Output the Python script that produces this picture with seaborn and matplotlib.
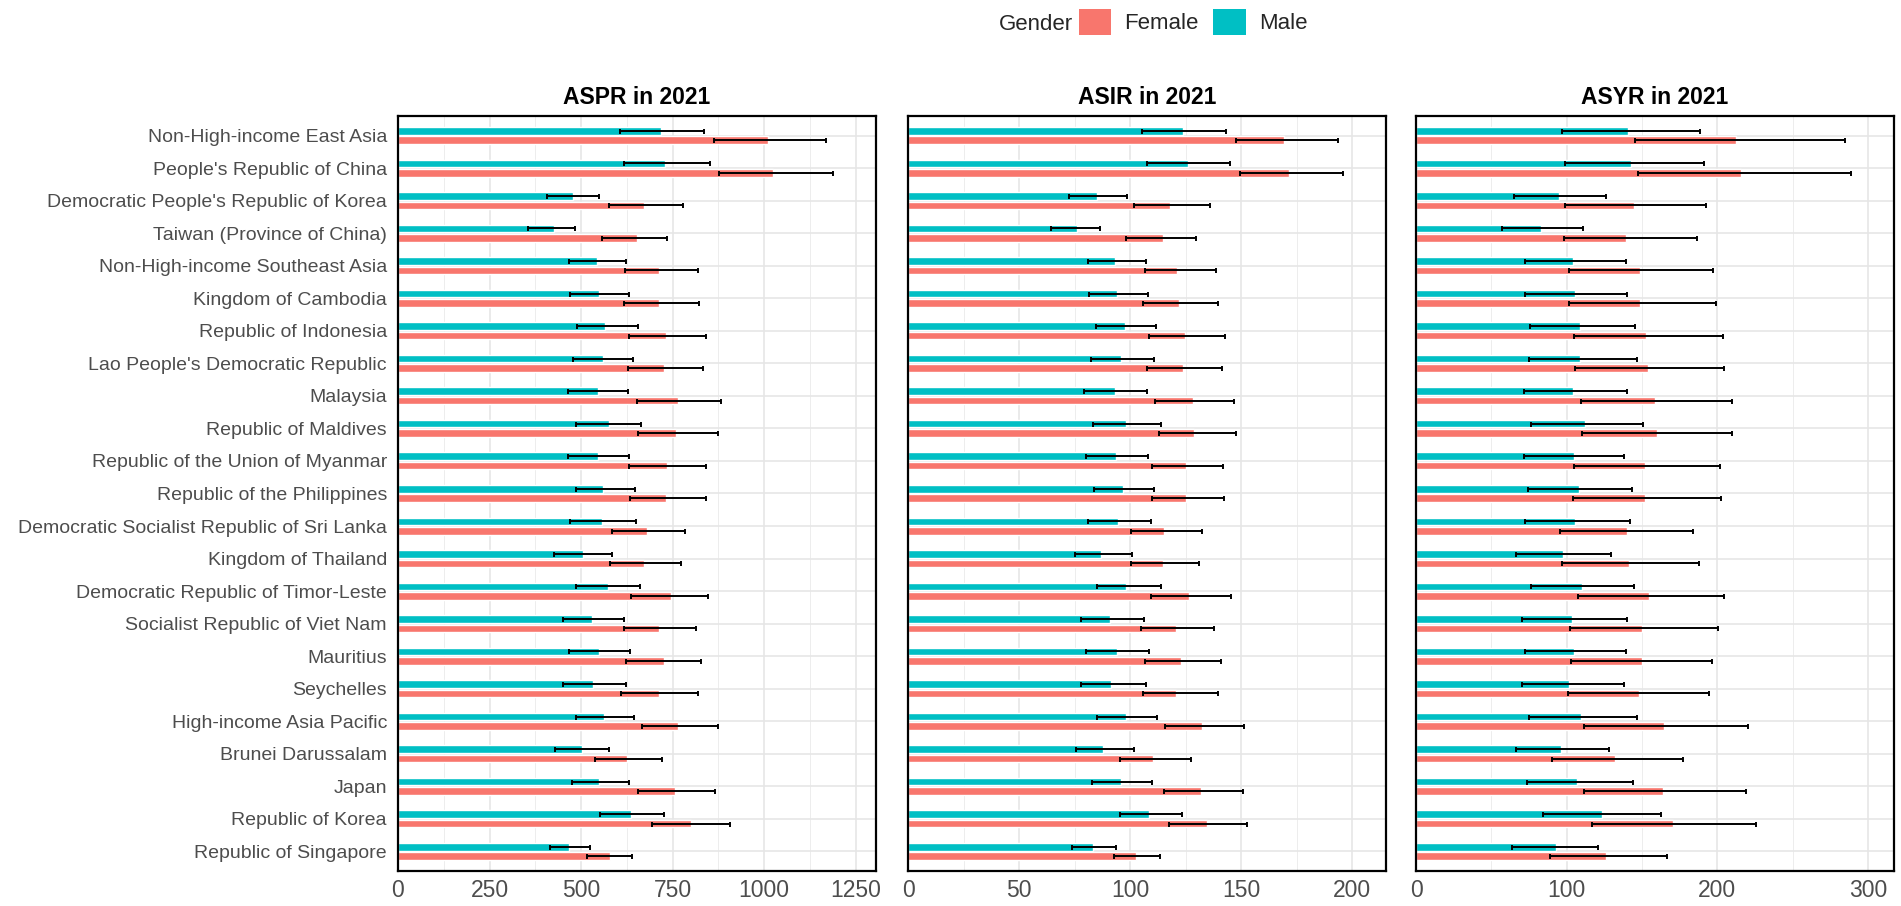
import pandas as pd
import matplotlib.pyplot as plt
import seaborn as sns
from matplotlib.patches import Patch
from matplotlib.ticker import MultipleLocator

sns.set_style("white")
plt.rcParams['font.family'] = ['Liberation Sans', 'DejaVu Sans']

countries = [
    "Non-High-income East Asia", "People's Republic of China",
    "Democratic People's Republic of Korea", "Taiwan (Province of China)",
    "Non-High-income Southeast Asia", "Kingdom of Cambodia",
    "Republic of Indonesia", "Lao People's Democratic Republic", "Malaysia",
    "Republic of Maldives", "Republic of the Union of Myanmar",
    "Republic of the Philippines", "Democratic Socialist Republic of Sri Lanka",
    "Kingdom of Thailand", "Democratic Republic of Timor-Leste",
    "Socialist Republic of Viet Nam", "Mauritius", "Seychelles",
    "High-income Asia Pacific", "Brunei Darussalam", "Japan",
    "Republic of Korea", "Republic of Singapore",
]

# ASPR (prevalence)
aspr_male = [718, 729, 479, 426, 544, 549, 565, 560, 546, 577, 546, 560, 558, 505, 574, 530, 549, 533, 564, 502, 549, 636, 467]
aspr_male_lo = [606, 617, 406, 355, 467, 470, 490, 479, 464, 486, 464, 485, 470, 426, 486, 451, 467, 451, 486, 428, 476, 552, 416]
aspr_male_hi = [836, 851, 550, 483, 624, 632, 655, 643, 629, 665, 632, 648, 651, 584, 660, 617, 634, 624, 645, 575, 632, 726, 525]
aspr_female = [1010, 1024, 673, 653, 712, 714, 732, 726, 765, 760, 735, 732, 681, 673, 745, 712, 726, 714, 765, 625, 756, 801, 580]
aspr_female_lo = [864, 877, 575, 558, 619, 616, 631, 627, 653, 655, 630, 633, 584, 580, 636, 618, 624, 608, 667, 537, 656, 695, 515]
aspr_female_hi = [1168, 1187, 778, 735, 819, 823, 842, 834, 882, 873, 842, 842, 783, 774, 847, 815, 827, 820, 873, 722, 866, 906, 640]

# ASIR (incidence)
asir_male = [124.0, 126.0, 85.2, 75.9, 93.0, 93.9, 97.7, 95.9, 93.0, 98.1, 93.6, 96.8, 94.4, 87.0, 98.1, 90.8, 93.9, 91.2, 98.1, 87.9, 95.9, 108.3, 83.3]
asir_male_lo = [105.5, 107.4, 72.6, 64.4, 80.9, 81.5, 84.5, 82.4, 79.2, 83.4, 80.1, 83.9, 81.0, 75.2, 85.1, 77.7, 80.0, 78.0, 85.1, 75.8, 82.8, 95.4, 74.0]
asir_male_hi = [143.3, 145.1, 98.7, 86.3, 107.1, 108.0, 111.8, 110.7, 107.6, 114.0, 108.0, 110.7, 109.4, 100.7, 114.0, 106.1, 108.6, 107.1, 112.2, 101.6, 109.8, 123.3, 93.6]
asir_female = [169.1, 171.3, 118.1, 114.8, 121.2, 121.8, 124.5, 123.6, 128.1, 128.7, 125.0, 125.0, 115.2, 114.8, 126.5, 120.5, 123.0, 120.8, 132.3, 110.1, 131.9, 134.7, 102.6]
asir_female_lo = [147.6, 149.6, 101.9, 98.1, 106.5, 105.6, 108.5, 107.4, 111.2, 113.1, 109.8, 109.8, 100.5, 100.5, 109.4, 105.0, 106.5, 105.6, 115.7, 95.4, 115.2, 117.3, 92.7]
asir_female_hi = [193.4, 195.6, 136.1, 129.8, 138.6, 139.5, 142.8, 141.3, 146.6, 147.8, 141.8, 142.4, 132.2, 131.1, 145.4, 137.6, 140.9, 139.4, 151.1, 127.4, 150.6, 152.4, 113.6]

# ASYR (YLDs)
asyr_male = [140.8, 142.8, 95.0, 83.2, 104.5, 105.8, 109.2, 109.2, 104.5, 112.5, 105.2, 108.5, 105.8, 97.6, 110.0, 103.8, 105.2, 101.6, 109.8, 96.3, 107.2, 123.8, 92.8]
asyr_male_lo = [97.2, 99.0, 64.9, 57.3, 72.4, 72.4, 75.7, 75.1, 71.7, 76.4, 71.7, 74.4, 72.6, 66.2, 76.4, 70.2, 72.6, 70.2, 75.3, 66.2, 73.7, 84.6, 64.0]
asyr_male_hi = [188.6, 191.5, 126.4, 110.7, 139.5, 140.4, 145.7, 146.6, 140.1, 150.6, 137.9, 143.2, 141.9, 129.3, 145.0, 140.4, 139.5, 138.2, 147.0, 128.2, 144.1, 162.5, 121.1]
asyr_female = [212.5, 215.9, 144.8, 139.3, 148.8, 148.8, 153.0, 153.7, 159.0, 159.9, 152.1, 152.1, 139.9, 141.5, 155.0, 150.1, 150.1, 148.3, 164.5, 132.4, 164.1, 170.7, 126.4]
asyr_female_lo = [145.5, 147.7, 99.0, 98.5, 101.8, 101.6, 104.7, 105.8, 109.4, 110.0, 105.2, 104.3, 95.4, 96.8, 107.8, 102.3, 103.2, 101.0, 111.8, 90.3, 111.8, 116.7, 88.8]
asyr_female_hi = [284.5, 288.5, 192.8, 186.6, 197.5, 199.0, 203.7, 204.4, 209.9, 209.9, 201.7, 202.6, 184.2, 188.0, 204.4, 200.8, 196.4, 194.8, 220.3, 177.1, 219.2, 225.4, 166.5]

gender_colors = {"Female": "#F8766D", "Male": "#00BFC4"}
gender_order = ["Male", "Female"]


def make_frame(male, male_lo, male_hi, female, female_lo, female_hi):
    rows = []
    for i, c in enumerate(countries):
        rows.append([c, "Male", male[i], male_lo[i], male_hi[i]])
        rows.append([c, "Female", female[i], female_lo[i], female_hi[i]])
    return pd.DataFrame(rows, columns=["Country", "Gender", "val", "lo", "hi"])


panels = [
    ("ASPR in 2021", make_frame(aspr_male, aspr_male_lo, aspr_male_hi,
                                aspr_female, aspr_female_lo, aspr_female_hi), 250),
    ("ASIR in 2021", make_frame(asir_male, asir_male_lo, asir_male_hi,
                                asir_female, asir_female_lo, asir_female_hi), 50),
    ("ASYR in 2021", make_frame(asyr_male, asyr_male_lo, asyr_male_hi,
                                asyr_female, asyr_female_lo, asyr_female_hi), 100),
]

W, H = 1901, 906
fig = plt.figure(figsize=(W / 100, H / 100), dpi=100)
lefts = [398, 908, 1416]

for k, (title, df, step) in enumerate(panels):
    ax = fig.add_axes([lefts[k] / W, 1 - 871 / H, 478 / W, 755 / H])
    sns.barplot(data=df, x="val", y="Country", hue="Gender", hue_order=gender_order,
                order=countries, palette=gender_colors, orient="h", width=0.58, gap=0.2,
                errorbar=None, legend=False, saturation=1, ax=ax)

    # error bars at the centre of each drawn bar
    for cont, g in zip(ax.containers, gender_order):
        sub = df[df["Gender"] == g].set_index("Country").loc[countries]
        ys = [b.get_y() + b.get_height() / 2 for b in cont]
        ax.errorbar(sub["val"], ys, xerr=[sub["val"] - sub["lo"], sub["hi"] - sub["val"]],
                    fmt="none", ecolor="black", elinewidth=1.4, capsize=1.8, capthick=1.4,
                    zorder=3)

    ax.set_xlim(0, df["hi"].max() * 1.1)
    ax.set_ylim(len(countries) - 0.4, -0.6)
    ax.xaxis.set_major_locator(MultipleLocator(step))
    ax.xaxis.set_minor_locator(MultipleLocator(step / 2))
    ax.set_axisbelow(True)
    ax.grid(True, which="major", color="#E6E6E6", linewidth=1.2)
    ax.xaxis.grid(True, which="minor", color="#EDEDED", linewidth=0.7)
    ax.set_xlabel("")
    ax.set_ylabel("")
    ax.set_title(title, fontsize=16.5, fontweight="bold", pad=8.5, color="black")
    ax.tick_params(axis="x", which="both", length=0, pad=6, labelsize=16.5, labelcolor="#4D4D4D")
    ax.tick_params(axis="y", length=0, pad=8, labelsize=14, labelcolor="#4D4D4D")
    if k > 0:
        ax.tick_params(axis="y", labelleft=False)
    for sp in ax.spines.values():
        sp.set_visible(True)
        sp.set_color("black")
        sp.set_linewidth(1.6)

# legend on top: title at left, keys in a row
fig.text(999 / W, 1 - 24 / H, "Gender", fontsize=16, ha="left", va="center")
handles = [Patch(facecolor=gender_colors[g], edgecolor="none") for g in ["Female", "Male"]]
fig.legend(handles, ["Female", "Male"], loc="center left", bbox_to_anchor=(1079 / W, 1 - 22 / H),
           ncol=2, frameon=False, fontsize=16, handlelength=1.45, handleheight=1.45,
           handletextpad=0.6, columnspacing=0.65, borderpad=0, borderaxespad=0)

fig.savefig("out.png", dpi=100)
